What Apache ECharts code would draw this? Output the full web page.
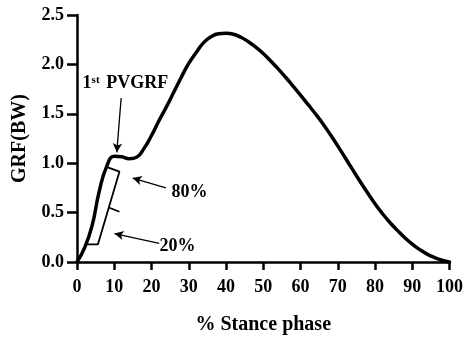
<!DOCTYPE html>
<html><head><meta charset="utf-8">
<script src="https://cdn.jsdelivr.net/npm/echarts@6/dist/echarts.min.js"></script>
<style>html,body{margin:0;padding:0;background:#fff}#c{width:466px;height:340px}</style>
</head><body><div id="c"></div>
<script>
// % stance phase (x) and GRF in body weights (y)
const stance = [0,2,4,6,8,10,12,14,16,18,20,22,24,26,28,30,32,34,36,38,40,42,44,46,48,50,52,54,56,58,60,62,64,66,68,70,72,74,76,78,80,82,84,86,88,90,92,94,96,98,100];
const grf = [0,0.14,0.36,0.72,0.97,1.07,1.065,1.045,1.06,1.15,1.28,1.43,1.57,1.72,1.87,2.01,2.12,2.22,2.28,2.31,2.315,2.305,2.275,2.23,2.175,2.11,2.035,1.955,1.87,1.78,1.69,1.595,1.50,1.40,1.29,1.175,1.055,0.935,0.815,0.70,0.59,0.49,0.40,0.32,0.245,0.18,0.125,0.08,0.045,0.018,0];
const xTicks = [0,10,20,30,40,50,60,70,80,90,100];
const yTicks = ['0.0','0.5','1.0','1.5','2.0','2.5'];
// annotation bracket (data coords)
const bracket = [[8.26,0.957],[11.39,0.914],[5.6,0.178],[2.5,0.178]];
const bracketMid = [[8.54,0.552],[11.39,0.509]];
// arrows: [tail, head]
const arrows = [
  [[11.85,1.66],[10.68,1.11]],
  [[23.86,0.75],[14.95,0.85]],
  [[22.07,0.188],[10.06,0.288]]
];
const labels = [
  {text:'{a|1}{b|st}  {a|PVGRF}', at:[13.0,1.81]},
  {text:'{a|80%}', at:[30.2,0.70]},
  {text:'{a|20%}', at:[27.0,0.155]}
];

const F = 'Liberation Serif';
const chart = echarts.init(document.getElementById('c'), null, {renderer:'canvas'});
const axisCommon = {
  axisLine:{show:true,lineStyle:{color:'#000',width:2.5}},
  splitLine:{show:false},
  axisLabel:{color:'#000',fontFamily:F,fontWeight:'bold',fontSize:18},
  nameTextStyle:{color:'#000',fontFamily:F,fontWeight:'bold',fontSize:20}
};
chart.setOption({
  animation:false,
  backgroundColor:'#fff',
  grid:{left:77,right:14,top:15,bottom:73},
  xAxis:Object.assign({}, axisCommon, {
    type:'value', min:0, max:100, interval:10,
    name:'% Stance phase', nameLocation:'middle', nameGap:53,
    axisTick:{show:true,length:8,lineStyle:{color:'#000',width:2.5}},
    axisLabel:Object.assign({}, axisCommon.axisLabel, {margin:16,
      formatter:v=>xTicks.includes(v)?String(v):''})
  }),
  yAxis:Object.assign({}, axisCommon, {
    type:'value', min:0, max:2.5, interval:0.5,
    name:'GRF(BW)', nameLocation:'middle', nameGap:47,
    axisTick:{show:true,length:10,lineStyle:{color:'#000',width:2.5}},
    axisLabel:Object.assign({}, axisCommon.axisLabel, {margin:13,
      formatter:v=>yTicks[Math.round(v/0.5)]})
  }),
  series:[
    {type:'line', data:stance.map((x,i)=>[x,grf[i]]), smooth:0.5, showSymbol:false,
     lineStyle:{color:'#000',width:3.5,cap:'round',join:'round'}, z:3},
    {type:'line', data:bracket, showSymbol:false, lineStyle:{color:'#000',width:1.8}, z:2},
    {type:'line', data:bracketMid, showSymbol:false, lineStyle:{color:'#000',width:1.8}, z:2,
     markLine:{silent:true, symbol:['none','arrow'], symbolSize:[7,9],
       lineStyle:{color:'#000',width:1.3,type:'solid'}, label:{show:false},
       data:arrows.map(a=>[{coord:a[0]},{coord:a[1]}])},
     markPoint:{silent:true, symbol:'circle', symbolSize:0,
       data:labels.map(l=>({coord:l.at, label:{show:true, position:'inside', formatter:l.text,
         rich:{a:{fontFamily:F,fontWeight:'bold',fontSize:18,color:'#000'},
               b:{fontFamily:F,fontWeight:'bold',fontSize:11,color:'#000',verticalAlign:'top'}}}}))}
    }
  ]
});
</script></body></html>
